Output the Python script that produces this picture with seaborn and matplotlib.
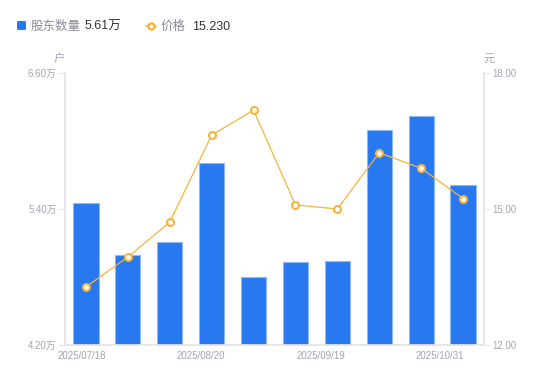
import numpy as np
import pandas as pd
import matplotlib
matplotlib.use("Agg")
import matplotlib.pyplot as plt
import matplotlib.transforms as mtransforms
import seaborn as sns
from matplotlib.lines import Line2D
from matplotlib.patches import FancyBboxPatch

dates = ["2025/07/18", "2025/07/31", "2025/08/08", "2025/08/20", "2025/08/29",
         "2025/09/05", "2025/09/19", "2025/09/30", "2025/10/20", "2025/10/31"]
holders = [5.45, 4.99, 5.11, 5.81, 4.80, 4.93, 4.94, 6.10, 6.22, 5.61]   # 万户
prices = [13.28, 13.94, 14.71, 16.63, 17.18, 15.09, 15.00, 16.24, 15.90, 15.23]
left_ticks = [4.20, 5.40, 6.60]
right_ticks = [12.00, 15.00, 18.00]
shown_dates = ["2025/07/18", "2025/08/20", "2025/09/19", "2025/10/31"]

sns.set_theme(style="white")
FAM = ['Liberation Sans', 'Noto Sans CJK SC', 'DejaVu Sans']
plt.rcParams['font.family'] = FAM

BLUE = "#2878F0"
ORANGE = "#F9B23C"
GRAY = "#A3A3B5"
AXC = "#E3E3E8"

fig = plt.figure(figsize=(5.5, 3.81), dpi=100)
ax = fig.add_axes([65/550, 36/381, 419/550, 272/381])
df = pd.DataFrame({"date": dates, "holders": holders, "price": prices})

sns.barplot(data=df, x="date", y="holders", ax=ax, color=BLUE, width=0.6,
            saturation=1, edgecolor="#8FB8F6", linewidth=0.8)
ax.set_ylim(left_ticks[0], left_ticks[-1])
ax.set_xlim(-0.5, len(dates) - 0.5)
ax.set_yticks(left_ticks)
ax.set_yticklabels([f"{v:.2f}万" for v in left_ticks])
ax.set_xticks([dates.index(d) for d in shown_dates])
ax.set_xticklabels(shown_dates)
ax.set_xlabel("")
ax.set_ylabel("")

ax2 = ax.twinx()
x_pos = np.arange(len(dates))
sns.lineplot(x=x_pos, y=prices, ax=ax2, color=ORANGE, linewidth=0.9,
             marker="o", markersize=5, markerfacecolor="white",
             markeredgecolor=ORANGE, markeredgewidth=1.5)
ax2.set_ylim(right_ticks[0], right_ticks[-1])
ax2.set_yticks(right_ticks)
ax2.set_yticklabels([f"{v:.2f}" for v in right_ticks])
ax2.set_xlim(-0.5, len(dates) - 0.5)

for a in (ax, ax2):
    for s in a.spines.values():
        s.set_visible(False)
    a.tick_params(axis="both", colors=AXC, labelcolor=GRAY, labelsize=7,
                  length=4, width=0.8)
    a.grid(False)
ax.spines["left"].set_visible(True)
ax.spines["left"].set_color(AXC)
ax.spines["bottom"].set_visible(True)
ax.spines["bottom"].set_color(AXC)
ax2.spines["right"].set_visible(True)
ax2.spines["right"].set_color(AXC)
ax.tick_params(axis="x", length=0, pad=4)
ax.tick_params(axis="y", pad=2)
ax2.tick_params(axis="y", pad=2)

# date labels are spread slightly left of their bars (as in the reference)
for k, lab in enumerate(ax.get_xticklabels()):
    shift = -(4 + 6.4 * k) / 100.0
    lab.set_transform(lab.get_transform() +
                      mtransforms.ScaledTranslation(shift, 0, fig.dpi_scale_trans))

fig.text(59/550, 1 - 59/381, "户", color=GRAY, fontsize=8, ha="center", va="center")
fig.text(489/550, 1 - 59/381, "元", color=GRAY, fontsize=8, ha="center", va="center")

# legend
LY = 1 - 25.5/381
TY = 1 - 27/381
fig.patches.append(FancyBboxPatch((17/550, 1 - 30/381), 9/550, 9/381,
                                  boxstyle="round,pad=0,rounding_size=0.003",
                                  transform=fig.transFigure,
                                  facecolor=BLUE, edgecolor="none"))
fig.text(31/550, TY, "股东数量", color="#8A8A99", fontsize=9, va="center")
fig.text(85/550, TY, f"{holders[-1]:.2f}万", color="#333333", fontsize=9, va="center")
fig.lines.append(Line2D([145.5/550, 155.5/550], [LY, LY], transform=fig.transFigure,
                        color=ORANGE, linewidth=1.2))
fig.lines.append(Line2D([150.5/550], [LY], transform=fig.transFigure,
                        color=ORANGE, linestyle="none", marker="o", markersize=4.5,
                        markerfacecolor="white", markeredgecolor=ORANGE, markeredgewidth=1.6))
fig.text(161/550, TY, "价格", color="#8A8A99", fontsize=9, va="center")
fig.text(192/550, TY, f"{prices[-1]:.3f}", color="#333333", fontsize=9, va="center")

fig.savefig("out.png", dpi=100)
